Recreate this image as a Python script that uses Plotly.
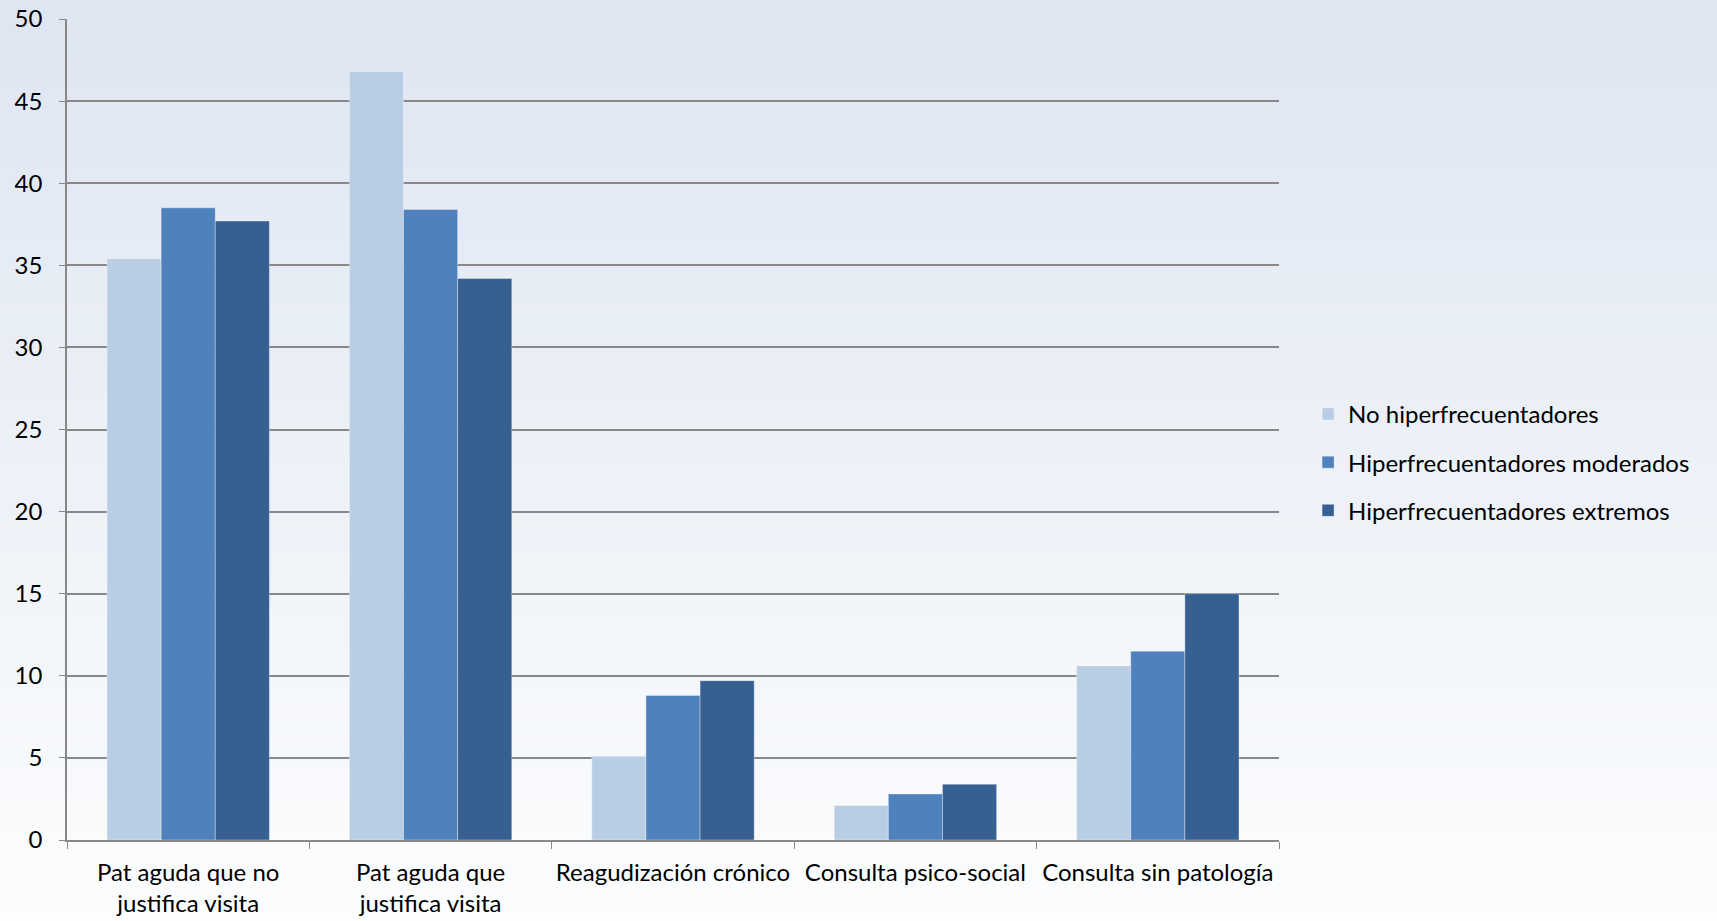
import plotly.graph_objects as go

categories = ["Pat aguda que no<br>justifica visita", "Pat aguda que<br>justifica visita",
              "Reagudización crónico", "Consulta psico-social", "Consulta sin patología"]
series_names = ["No hiperfrecuentadores", "Hiperfrecuentadores moderados", "Hiperfrecuentadores extremos"]
no_hiper = [35.4, 46.8, 5.1, 2.1, 10.6]
hiper_mod = [38.5, 38.4, 8.8, 2.8, 11.5]
hiper_ext = [37.7, 34.2, 9.7, 3.4, 15.0]
y_ticks = [0, 5, 10, 15, 20, 25, 30, 35, 40, 45, 50]

colors = ["#b9cde5", "#4f81bd", "#376092"]
FONT = "Lato, Liberation Sans, sans-serif"

fig = go.Figure()
for i, (name, vals, c) in enumerate(zip(series_names, [no_hiper, hiper_mod, hiper_ext], colors)):
    fig.add_trace(go.Bar(x=categories, y=vals, name=name, legendgroup=f"g{i}",
                         marker=dict(color=c, line=dict(color="rgba(255,255,255,0.35)", width=1))))

# vertical background gradient
shapes = []
n = 60
top = (222, 230, 242)
bot = (252, 253, 254)
for i in range(n):
    t = i / (n - 1)
    r = int(top[0] + (bot[0] - top[0]) * t)
    g = int(top[1] + (bot[1] - top[1]) * t)
    b = int(top[2] + (bot[2] - top[2]) * t)
    y1 = 1 - i / n
    y0 = 1 - (i + 1) / n
    shapes.append(dict(type="rect", xref="paper", yref="paper", x0=-0.1, x1=1.4,
                       y0=-0.1 + 1.13 * y0, y1=-0.1 + 1.13 * y1 + 0.002,
                       fillcolor=f"rgb({r},{g},{b})", line=dict(width=0), layer="below"))

fig.update_layout(
    width=1717, height=921,
    margin=dict(l=67, r=438, t=19, b=81),
    paper_bgcolor="#fcfdfe", plot_bgcolor="rgba(0,0,0,0)",
    barmode="group", bargap=0.33, bargroupgap=0,
    font=dict(family=FONT, size=24, color="#000000"),
    shapes=shapes,
    legend=dict(x=1.024, y=0.46, xanchor="left", yanchor="middle",
                font=dict(size=24), tracegroupgap=14, traceorder="grouped",
                bgcolor="rgba(0,0,0,0)"),
    showlegend=True,
)
fig.update_yaxes(range=[0, 50], tickvals=y_ticks, showgrid=True, gridcolor="#888888", gridwidth=1.5,
                 showline=True, linecolor="#888888", linewidth=1.5, ticks="outside", ticklen=6,
                 tickcolor="#888888", zeroline=False, tickfont=dict(size=24), automargin=False,
                 ticklabelstandoff=12)
fig.update_xaxes(showline=True, linecolor="#888888", linewidth=1.5, ticks="outside", ticklen=7,
                 tickcolor="#888888", tickson="boundaries", tickfont=dict(size=24), automargin=False,
                 ticklabelstandoff=10, tickangle=0)

fig.write_html("out.html")
